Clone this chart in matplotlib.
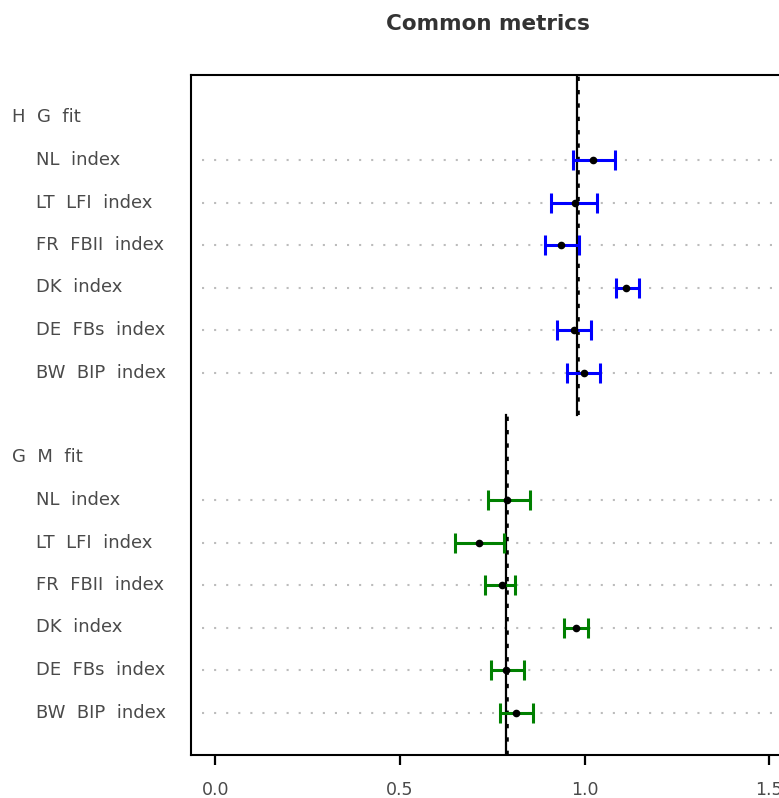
import matplotlib
matplotlib.use("Agg")
import matplotlib.pyplot as plt
from matplotlib.transforms import blended_transform_factory

# item labels, top to bottom inside each group
labels = ["NL  index", "LT  LFI  index", "FR  FBII  index",
          "DK  index", "DE  FBs  index", "BW  BIP  index"]
groups = ["H  G  fit", "G  M  fit"]

# H G fit estimates with interval ends
hg_est = [1.022, 0.973, 0.936, 1.112, 0.971, 0.998]
hg_lo = [0.968, 0.908, 0.892, 1.084, 0.925, 0.952]
hg_hi = [1.082, 1.033, 0.984, 1.146, 1.017, 1.041]
hg_ref = 0.978

# G M fit estimates with interval ends
gm_est = [0.790, 0.714, 0.775, 0.977, 0.787, 0.813]
gm_lo = [0.739, 0.649, 0.731, 0.945, 0.747, 0.771]
gm_hi = [0.852, 0.781, 0.812, 1.010, 0.836, 0.861]
gm_ref = 0.787

xticks = [0.0, 0.5, 1.0, 1.5]

W, H = 779, 798
fig = plt.figure(figsize=(W / 100, H / 100), dpi=100)
ax = fig.add_axes([191.3 / W, 1 - 755 / H, (787.8 - 191.3) / W, (755 - 75) / H])
ax.set_xlim(-0.065, 1.55)
ax.set_ylim(0, 16)

txt_col = "#4a4a4a"
lab_tr = blended_transform_factory(fig.transFigure, ax.transData)

panels = [
    (groups[0], 15, [14, 13, 12, 11, 10, 9], hg_est, hg_lo, hg_hi, hg_ref, "#0000ff", (8, 16)),
    (groups[1], 7, [6, 5, 4, 3, 2, 1], gm_est, gm_lo, gm_hi, gm_ref, "#008000", (0, 8)),
]

for gname, gy, rows, est, lo, hi, ref, col, span in panels:
    ax.text(11.7 / W, gy, gname, transform=lab_tr, ha="left", va="center",
            fontsize=13, color=txt_col)
    for lab, y, e, l, h in zip(labels, rows, est, lo, hi):
        ax.text(35.7 / W, y, lab, transform=lab_tr, ha="left", va="center",
                fontsize=13, color=txt_col)
        ax.plot([-0.035, 1.6], [y, y], color="#bcbcbc", lw=1.5,
                linestyle=(0, (1, 4.8)), zorder=1)
        ax.errorbar(e, y, xerr=[[e - l], [h - e]], fmt="none", ecolor=col,
                    elinewidth=2.2, capsize=7.2, capthick=2.2, zorder=3)
        ax.plot(e, y, "o", color="black", ms=4.5, zorder=4)
    # reference line: solid plus a thick dotted overlay
    ax.plot([ref, ref], span, color="black", lw=1.6, zorder=2)
    ax.plot([ref + 0.004, ref + 0.004], span, color="black", lw=2.6,
            linestyle=(0, (1.2, 2.5)), zorder=2)

ax.set_yticks([])
ax.set_xticks(xticks)
ax.set_xticklabels(["0.0", "0.5", "1.0", "1.5"])
ax.tick_params(axis="x", length=7, width=1.6, pad=12, labelsize=12.5,
               labelcolor=txt_col)
for s in ax.spines.values():
    s.set_linewidth(1.5)
    s.set_clip_on(True)

fig.text(488 / W, 1 - 24 / H, "Common metrics", ha="center", va="center",
         fontsize=15.5, fontweight="bold", color="#333333")

fig.savefig("out.png", dpi=100)
